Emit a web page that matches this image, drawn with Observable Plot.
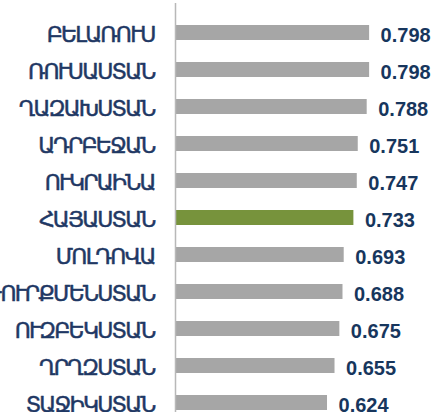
<!DOCTYPE html>
<html>
<head>
<meta charset="utf-8">
<script src="https://cdn.jsdelivr.net/npm/d3@7"></script>
<script src="https://cdn.jsdelivr.net/npm/@observablehq/plot@0.6"></script>
<style>
  html, body { margin: 0; padding: 0; background: #fff; }
  #chart svg { display: block; overflow: visible; }
  .lbl text { letter-spacing: -1.8px; }
</style>
</head>
<body>
<div id="chart"></div>
<script>
const countries = ["ԲԵԼԱՌՈՒՍ", "ՌՈՒՍԱՍՏԱՆ", "ՂԱԶԱԽՍՏԱՆ", "ԱԴՐԲԵՋԱՆ", "ՈՒԿՐԱԻՆԱ", "ՀԱՅԱՍՏԱՆ", "ՄՈԼԴՈՎԱ", "ԹՈՒՐՔՄԵՆՍՏԱՆ", "ՈՒԶԲԵԿՍՏԱՆ", "ՂՐՂԶՍՏԱՆ", "ՏԱՋԻԿՍՏԱՆ"];
const values = [0.798, 0.798, 0.788, 0.751, 0.747, 0.733, 0.693, 0.688, 0.675, 0.655, 0.624];
const highlight = "ՀԱՅԱՍՏԱՆ";

const data = countries.map((c, i) => ({country: c, value: values[i]}));

const chart = Plot.plot({
  width: 439,
  height: 412,
  marginLeft: 176,
  marginRight: 21,
  marginTop: 3,
  marginBottom: 0,
  x: {domain: [0, 1], axis: null},
  y: {domain: countries, axis: null, paddingInner: 0.6, paddingOuter: 0.2533, align: 0.895},
  marks: [
    Plot.barX(data, {
      y: "country", x: "value",
      fill: d => d.country === highlight ? "#77933c" : "#a6a6a6"
    }),
    Plot.ruleX([0], {stroke: "#b8b8b8", strokeWidth: 1.5, dx: -1}),
    Plot.text(data, {
      y: "country", x: "value", text: d => d.value.toFixed(3),
      textAnchor: "start", dx: 11, dy: 2.5,
      fill: "#17365d", fontSize: 20, fontWeight: "bold",
      fontFamily: "Liberation Sans, Arial, sans-serif"
    }),
    Plot.text(data, {
      y: "country", x: 0, text: "country",
      textAnchor: "end", dx: -22, dy: 1.5,
      fill: "#1f3864", stroke: "#1f3864", strokeWidth: 0.5,
      fontSize: 22, fontWeight: "normal",
      fontFamily: "DejaVu Sans, sans-serif", className: "lbl"
    })
  ]
});
document.getElementById("chart").appendChild(chart);
</script>
</body>
</html>
